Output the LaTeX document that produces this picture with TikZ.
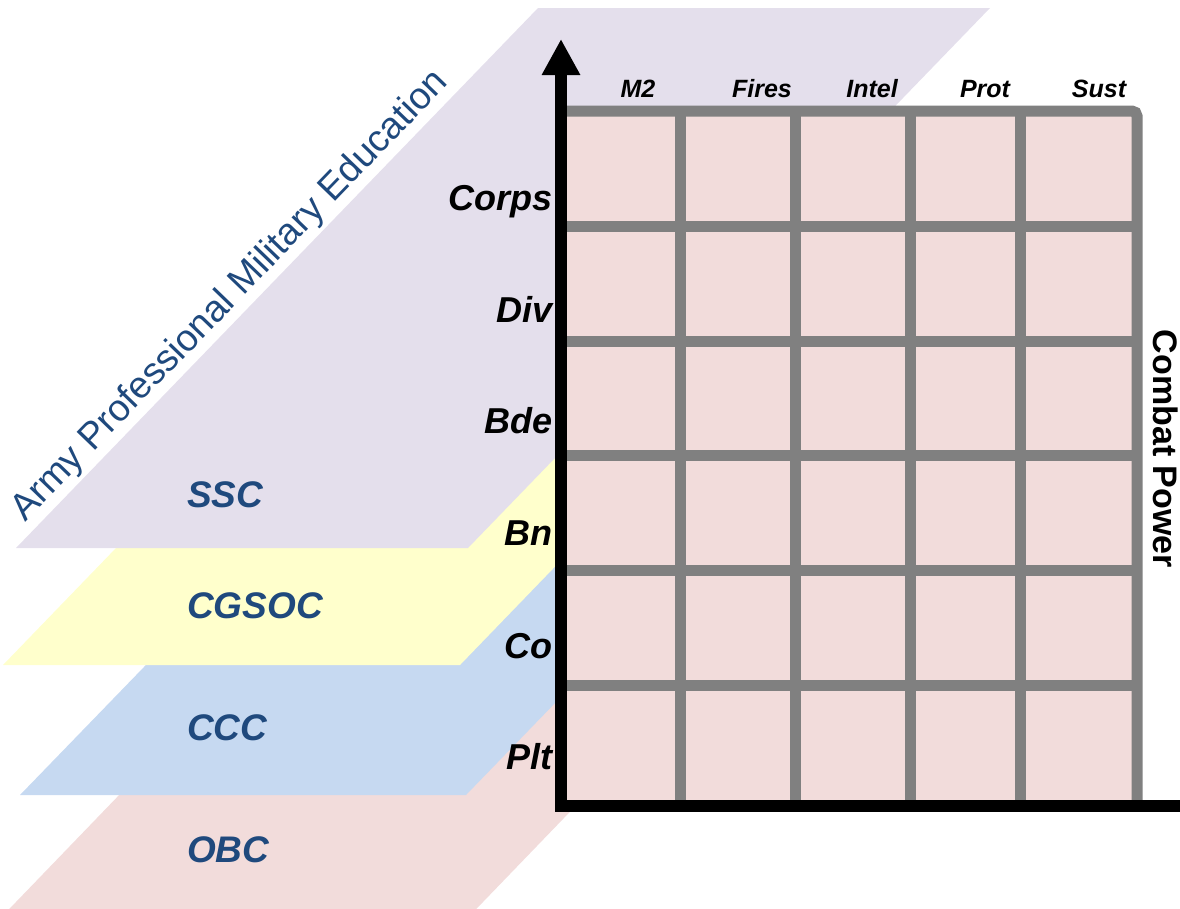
\documentclass[tikz,border=0pt]{standalone}
\usepackage{fontspec}
\setmainfont{Liberation Sans}
\usetikzlibrary{arrows.meta,positioning}

\definecolor{sscpurple}{HTML}{E4DFEC}
\definecolor{cgsocyellow}{HTML}{FFFFCC}
\definecolor{cccblue}{HTML}{C6D9F1}
\definecolor{obcpink}{HTML}{F2DCDB}
\definecolor{pmeblue}{HTML}{1F497D}
\definecolor{gridgray}{HTML}{808080}

\begin{document}
\begin{tikzpicture}[x=1pt, y=-1pt,
    echelon/.style={font=\fontsize{36}{40}\selectfont\bfseries\itshape, anchor=base east, inner sep=0pt},
    wfunc/.style={font=\fontsize{25}{28}\selectfont\bfseries\itshape, anchor=base, inner sep=0pt},
    course/.style={font=\fontsize{37}{42}\selectfont\bfseries\itshape, text=pmeblue, anchor=base west, inner sep=0pt},
    cell line/.style={gridgray, line width=11pt},
    bigaxis/.style={line width=12pt, -{Triangle[length=36pt,width=36pt]}}]
    \useasboundingbox (0,0) rectangle (1180,908);
    \clip (0,0) rectangle (1180,908);

    % Education planes, back to front {OBC, CCC, CGSOC, SSC}
    \fill [obcpink]     (-11,930) -- (456,930) -- (697,680) -- (230,680) -- cycle;
    \fill [cccblue]     (20,795)  -- (466,795) -- (713,540) -- (267,540) -- cycle;
    \fill [cgsocyellow] (3,665)   -- (460,665) -- (716,400) -- (259,400) -- cycle;
    \fill [sscpurple]   (16,548)  -- (468,548) -- (990,8)   -- (538,8)   -- cycle;

    \node [rotate=46, anchor=base west, inner sep=0pt, text=pmeblue,
           font=\fontsize{37.5}{40}\selectfont] (pme) at (25,523) {Army Professional Military Education};

    % Matrix of cells
    \fill [obcpink] (561,111) rectangle (1137,806);
    \foreach \gx in {680,795,910,1020}
        \draw [cell line] (\gx,111) -- (\gx,806);
    \foreach \gy in {226,341,455,570,685}
        \draw [cell line] (561,\gy) -- (1137,\gy);
    \draw [cell line, rounded corners=5pt] (561,111) -- (1137,111) -- (1137,806);

    % Axes
    \coordinate (origin) at (561,806);
    \coordinate (ytip)   at (561,39);
    \coordinate (xend)   at (1190,806);
    \draw [bigaxis] (xend) -- (origin) -- (ytip);

    % Nodes {warfighting functions}
    \node [wfunc] (m2)    at (638,97)  {M2};
    \node [wfunc] (fires) at (762,97)  {Fires};
    \node [wfunc] (intel) at (872,97)  {Intel};
    \node [wfunc] (prot)  at (985,97)  {Prot};
    \node [wfunc] (sust)  at (1099,97) {Sust};

    % Nodes {echelons}
    \node [echelon] (corps) at (553,210) {Corps};
    \node [echelon] (div)   at (553,322) {Div};
    \node [echelon] (bde)   at (553,433) {Bde};
    \node [echelon] (bn)    at (553,545) {Bn};
    \node [echelon] (co)    at (553,658) {Co};
    \node [echelon] (plt)   at (553,769) {Plt};

    % Nodes {courses}
    \node [course] (ssc)   at (187,507) {SSC};
    \node [course] (cgsoc) at (187,618) {CGSOC};
    \node [course] (ccc)   at (187,740) {CCC};
    \node [course] (obc)   at (187,862) {OBC};

    \node [rotate=-90, anchor=base, inner sep=0pt,
           font=\fontsize{34}{38}\selectfont\bfseries] (power) at (1153,449) {Combat Power};
\end{tikzpicture}
\end{document}
